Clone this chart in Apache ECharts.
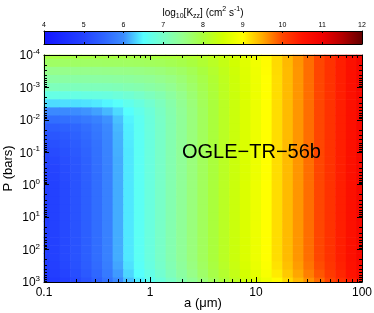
<!DOCTYPE html>
<html><head><meta charset="utf-8">
<script src="https://cdn.jsdelivr.net/npm/echarts@6/dist/echarts.min.js"></script>
<style>html,body{margin:0;padding:0;background:#fff}#c{width:374px;height:313px}</style>
</head><body><div id="c"></div>
<script>
// log10 of particle radius a (micron) at grid columns
const aExp = [-1.0,-0.9,-0.8,-0.7,-0.6,-0.5,-0.4,-0.3,-0.2,-0.1,0.0,0.1,0.2,0.3,0.4,0.5,0.6,0.7,0.8,0.9,1.0,1.1,1.2,1.3,1.4,1.5,1.6,1.7,1.8,1.9,2.0];
// log10 of pressure P (bar) at grid rows
const pExp = [-4,-3.75,-3.5,-3.25,-3,-2.75,-2.5,-2.25,-2,-1.75,-1.5,-1.25,-1,-0.75,-0.5,-0.25,0,0.25,0.5,0.75,1,1.25,1.5,1.75,2,2.25,2.5,2.75,3];
// log10 Kzz (cm^2 s^-1), one row per pExp, one value per aExp
const kzz = [
[7.95,7.95,7.95,7.95,7.95,7.95,7.95,7.96,7.96,7.97,7.98,8.00,8.02,8.06,8.11,8.18,8.28,8.39,8.53,8.69,8.86,9.04,9.22,9.42,9.61,9.81,10.00,10.20,10.40,10.60,10.80],
[7.75,7.75,7.75,7.75,7.75,7.75,7.76,7.76,7.77,7.78,7.80,7.82,7.86,7.91,7.98,8.08,8.19,8.33,8.49,8.66,8.84,9.02,9.22,9.41,9.61,9.80,10.00,10.20,10.40,10.60,10.80],
[7.50,7.50,7.50,7.50,7.50,7.50,7.51,7.52,7.53,7.55,7.58,7.62,7.68,7.75,7.85,7.98,8.12,8.28,8.45,8.63,8.82,9.01,9.21,9.40,9.60,9.80,10.00,10.20,10.40,10.60,10.80],
[7.30,7.30,7.30,7.30,7.30,7.31,7.32,7.33,7.35,7.38,7.42,7.48,7.55,7.65,7.78,7.92,8.08,8.25,8.43,8.62,8.81,9.00,9.20,9.40,9.60,9.80,10.00,10.20,10.40,10.60,10.80],
[7.10,7.10,7.10,7.10,7.11,7.11,7.12,7.14,7.18,7.22,7.28,7.35,7.45,7.58,7.72,7.88,8.05,8.23,8.42,8.61,8.80,9.00,9.20,9.40,9.60,9.80,10.00,10.20,10.40,10.60,10.80],
[6.74,6.74,6.75,6.75,6.76,6.77,6.79,6.84,6.90,6.98,7.08,7.19,7.33,7.49,7.66,7.84,8.02,8.22,8.40,8.60,8.80,9.00,9.20,9.40,9.60,9.80,10.00,10.20,10.40,10.60,10.80],
[6.35,6.35,6.36,6.36,6.38,6.41,6.46,6.55,6.67,6.79,6.93,7.08,7.25,7.44,7.62,7.82,8.00,8.20,8.40,8.60,8.80,9.00,9.20,9.40,9.60,9.80,10.00,10.20,10.40,10.60,10.80],
[5.95,5.96,5.97,6.00,6.03,6.09,6.19,6.34,6.52,6.68,6.85,7.03,7.22,7.41,7.60,7.80,8.00,8.20,8.40,8.60,8.80,9.00,9.20,9.40,9.60,9.80,10.00,10.20,10.40,10.60,10.80],
[5.60,5.62,5.65,5.70,5.77,5.87,6.02,6.23,6.45,6.63,6.82,7.01,7.20,7.40,7.60,7.80,8.00,8.20,8.40,8.60,8.80,9.00,9.20,9.40,9.60,9.80,10.00,10.20,10.40,10.60,10.80],
[5.38,5.41,5.46,5.53,5.63,5.76,5.95,6.19,6.43,6.62,6.81,7.00,7.20,7.40,7.60,7.80,8.00,8.20,8.40,8.60,8.80,9.00,9.20,9.40,9.60,9.80,10.00,10.20,10.40,10.60,10.80],
[5.25,5.29,5.36,5.45,5.57,5.72,5.92,6.17,6.42,6.61,6.80,7.00,7.20,7.40,7.60,7.80,8.00,8.20,8.40,8.60,8.80,9.00,9.20,9.40,9.60,9.80,10.00,10.20,10.40,10.60,10.80],
[5.15,5.20,5.28,5.38,5.52,5.68,5.90,6.16,6.41,6.60,6.80,7.00,7.20,7.40,7.60,7.80,8.00,8.20,8.40,8.60,8.80,9.00,9.20,9.40,9.60,9.80,10.00,10.20,10.40,10.60,10.80],
[5.07,5.13,5.22,5.34,5.48,5.66,5.89,6.15,6.40,6.60,6.80,7.00,7.20,7.40,7.60,7.80,8.00,8.20,8.40,8.60,8.80,9.00,9.20,9.40,9.60,9.80,10.00,10.20,10.40,10.60,10.80],
[5.00,5.07,5.18,5.30,5.46,5.65,5.88,6.14,6.40,6.60,6.80,7.00,7.20,7.40,7.60,7.80,8.00,8.20,8.40,8.60,8.80,9.00,9.20,9.40,9.60,9.80,10.00,10.20,10.40,10.60,10.80],
[4.96,5.03,5.15,5.28,5.44,5.64,5.86,6.14,6.40,6.60,6.80,7.00,7.20,7.40,7.60,7.80,8.00,8.20,8.40,8.60,8.80,9.00,9.20,9.40,9.60,9.80,10.00,10.20,10.40,10.60,10.80],
[4.93,5.01,5.13,5.27,5.44,5.62,5.86,6.14,6.40,6.60,6.80,7.00,7.20,7.40,7.60,7.80,8.00,8.20,8.40,8.60,8.80,9.00,9.20,9.40,9.60,9.80,10.00,10.20,10.40,10.60,10.80],
[4.90,4.97,5.10,5.25,5.42,5.62,5.86,6.14,6.40,6.60,6.80,7.00,7.20,7.40,7.60,7.80,8.00,8.20,8.40,8.60,8.80,9.00,9.20,9.40,9.60,9.80,10.00,10.20,10.40,10.60,10.80],
[4.88,4.97,5.10,5.25,5.42,5.62,5.86,6.14,6.40,6.60,6.80,7.00,7.20,7.40,7.60,7.80,8.00,8.20,8.40,8.60,8.80,9.00,9.20,9.40,9.60,9.80,10.00,10.20,10.40,10.60,10.80],
[4.88,4.97,5.10,5.25,5.42,5.62,5.86,6.14,6.40,6.60,6.80,7.00,7.20,7.40,7.60,7.80,8.00,8.20,8.40,8.60,8.80,9.00,9.20,9.40,9.60,9.80,10.00,10.20,10.40,10.60,10.80],
[4.88,4.97,5.10,5.25,5.42,5.62,5.86,6.14,6.40,6.60,6.80,7.00,7.20,7.40,7.60,7.80,8.00,8.20,8.40,8.60,8.80,9.00,9.20,9.40,9.60,9.80,10.00,10.20,10.40,10.60,10.80],
[4.88,4.97,5.10,5.25,5.42,5.62,5.86,6.14,6.40,6.60,6.80,7.00,7.20,7.40,7.60,7.80,8.00,8.20,8.40,8.60,8.80,9.00,9.20,9.40,9.60,9.80,10.00,10.20,10.40,10.60,10.80],
[4.88,4.97,5.10,5.25,5.42,5.62,5.86,6.14,6.40,6.60,6.80,7.00,7.20,7.40,7.60,7.80,8.00,8.20,8.40,8.60,8.80,9.00,9.20,9.40,9.60,9.80,10.00,10.20,10.40,10.60,10.80],
[4.88,4.97,5.10,5.25,5.42,5.62,5.86,6.14,6.40,6.60,6.80,7.00,7.20,7.40,7.60,7.80,8.00,8.20,8.40,8.60,8.80,9.00,9.20,9.40,9.60,9.80,10.00,10.20,10.40,10.60,10.80],
[4.88,4.97,5.10,5.25,5.42,5.62,5.86,6.14,6.40,6.60,6.80,7.00,7.20,7.40,7.60,7.80,8.00,8.20,8.40,8.60,8.80,9.00,9.20,9.40,9.60,9.80,10.00,10.20,10.40,10.60,10.80],
[4.88,4.97,5.10,5.25,5.42,5.62,5.86,6.14,6.40,6.60,6.80,7.00,7.20,7.40,7.60,7.80,8.00,8.20,8.40,8.60,8.80,9.00,9.20,9.40,9.60,9.80,10.00,10.20,10.40,10.60,10.80],
[4.88,4.97,5.10,5.25,5.42,5.62,5.86,6.14,6.40,6.60,6.80,7.00,7.20,7.40,7.60,7.80,8.00,8.20,8.40,8.60,8.80,9.00,9.20,9.40,9.60,9.80,10.00,10.20,10.40,10.60,10.80],
[4.85,4.94,5.07,5.22,5.39,5.59,5.83,6.11,6.37,6.57,6.77,6.97,7.17,7.37,7.57,7.77,7.97,8.17,8.37,8.57,8.77,8.97,9.17,9.37,9.57,9.77,9.97,10.17,10.37,10.57,10.77],
[4.80,4.89,5.02,5.17,5.34,5.54,5.78,6.06,6.32,6.52,6.72,6.92,7.12,7.32,7.52,7.72,7.92,8.12,8.32,8.52,8.72,8.92,9.12,9.32,9.52,9.72,9.92,10.12,10.32,10.52,10.72],
[4.70,4.79,4.92,5.07,5.24,5.44,5.68,5.96,6.22,6.42,6.62,6.82,7.02,7.22,7.42,7.62,7.82,8.02,8.22,8.42,8.62,8.82,9.02,9.22,9.42,9.62,9.82,10.02,10.22,10.42,10.62]
];
// colour scale range and colours (evenly spaced from cbMin to cbMax)
const cbMin = 4, cbMax = 12;
const cmapColors = ['#1414ff','#1a2cff','#2442ff','#2e64ff','#3c8cff','#55ffff','#78ffc8','#96ff8c','#aaff3c','#d2ff00','#ffff00','#ffaa00','#ff4600','#ff1400','#f00000','#b40000','#640000'];
const minorMult = [2,3,4,5,6,7,8,9];
const xDecades = [0.1, 1, 10];
const yDecades = [1e-4, 1e-3, 1e-2, 1e-1, 1, 10, 100];

const FONT = '"Liberation Sans", Arial, Helvetica, sans-serif';
const X_MIN = 0.1, X_MAX = 100, Y_MIN = 1e-4, Y_MAX = 1e3;
const HALF_A = 0.05, HALF_P = 0.125;

const cells = [];
for (let i = 0; i < pExp.length; i++) {
  for (let j = 0; j < aExp.length; j++) {
    if (kzz[i][j] == null) continue;
    cells.push([Math.pow(10, aExp[j]), Math.pow(10, pExp[i]), kzz[i][j], aExp[j], pExp[i]]);
  }
}
const xMinor = [], yMinor = [];
xDecades.forEach(d => minorMult.forEach(m => xMinor.push([m * d, 1])));
yDecades.forEach(d => minorMult.forEach(m => yMinor.push([1, m * d])));

function renderCell(params, api) {
  const la = api.value(3), lp = api.value(4);
  const x0 = Math.max(X_MIN, Math.pow(10, la - HALF_A));
  const x1 = Math.min(X_MAX, Math.pow(10, la + HALF_A));
  const y0 = Math.max(Y_MIN, Math.pow(10, lp - HALF_P));
  const y1 = Math.min(Y_MAX, Math.pow(10, lp + HALF_P));
  const p0 = api.coord([x0, y0]), p1 = api.coord([x1, y1]);
  const l = Math.min(p0[0], p1[0]), r = Math.max(p0[0], p1[0]);
  const t = Math.min(p0[1], p1[1]), b = Math.max(p0[1], p1[1]);
  return {type: 'rect', shape: {x: l - 0.3, y: t - 0.3, width: r - l + 0.6, height: b - t + 0.6},
          style: {fill: api.visual('color')}};
}
function renderXMinor(params, api) {
  const v = api.value(0);
  const pb = api.coord([v, Y_MAX]), pt = api.coord([v, Y_MIN]);
  const x = Math.round(pb[0]) + 0.5;
  return {type: 'group', children: [
    {type: 'line', shape: {x1: x, y1: pb[1], x2: x, y2: pb[1] - 3}, style: {stroke: '#000', lineWidth: 1}},
    {type: 'line', shape: {x1: x, y1: pt[1], x2: x, y2: pt[1] + 3}, style: {stroke: '#000', lineWidth: 1}}
  ]};
}
function renderYMinor(params, api) {
  const v = api.value(1);
  const pl = api.coord([X_MIN, v]), pr = api.coord([X_MAX, v]);
  const y = Math.round(pl[1]) + 0.5;
  return {type: 'group', children: [
    {type: 'line', shape: {x1: pl[0], y1: y, x2: pl[0] + 3, y2: y}, style: {stroke: '#000', lineWidth: 1}},
    {type: 'line', shape: {x1: pr[0], y1: y, x2: pr[0] - 3, y2: y}, style: {stroke: '#000', lineWidth: 1}}
  ]};
}
function renderColorbar(params, api) {
  const p0 = api.coord([cbMin, 0]), p1 = api.coord([cbMax, 1]);
  const stops = cmapColors.map((c, k) => ({offset: k / (cmapColors.length - 1), color: c}));
  return {type: 'rect', shape: {x: p0[0], y: p1[1], width: p1[0] - p0[0], height: p0[1] - p1[1]},
          style: {fill: {type: 'linear', x: 0, y: 0, x2: 1, y2: 0, colorStops: stops}}};
}

const axisLineBlack = {show: true, onZero: false, lineStyle: {color: '#000', width: 1}};
const logX = (pos, labels) => ({
  gridIndex: 0, type: 'log', logBase: 10, min: X_MIN, max: X_MAX, interval: 1, position: pos, z: 10,
  axisLine: axisLineBlack,
  axisTick: {show: true, inside: true, length: 5, lineStyle: {color: '#000', width: 1}},
  axisLabel: {show: labels, color: '#000', fontSize: 12, fontFamily: FONT, margin: 5,
              formatter: v => String(+Number(v).toPrecision(3))},
  splitLine: {show: false}, minorTick: {show: false}
});
const logY = (pos, labels) => ({
  gridIndex: 0, type: 'log', logBase: 10, min: Y_MIN, max: Y_MAX, interval: 1, inverse: true, position: pos, z: 10,
  axisLine: axisLineBlack,
  axisTick: {show: true, inside: true, length: 5, lineStyle: {color: '#000', width: 1}},
  axisLabel: {show: labels, color: '#000', fontFamily: FONT, margin: 4,
    formatter: v => '{b|10}{s|' + Math.round(Math.log10(v)) + '}',
    rich: {
      b: {fontSize: 12, lineHeight: 14, verticalAlign: 'bottom', fontFamily: FONT, color: '#000'},
      s: {fontSize: 8, lineHeight: 8, verticalAlign: 'top', padding: [0, 0, 10, 0], fontFamily: FONT, color: '#000'}
    }},
  splitLine: {show: false}, minorTick: {show: false}
});
const cbX = (pos, labels) => ({
  gridIndex: 1, type: 'value', min: cbMin, max: cbMax, interval: 1, position: pos, z: 10,
  axisLine: axisLineBlack,
  axisTick: {show: true, inside: true, length: 2, lineStyle: {color: '#000', width: 1}},
  axisLabel: {show: labels, color: '#000', fontSize: 7, fontFamily: FONT, margin: 2},
  splitLine: {show: false}
});
const cbY = (pos) => ({
  gridIndex: 1, type: 'value', min: 0, max: 1, position: pos, z: 10,
  axisLine: axisLineBlack, axisTick: {show: false}, axisLabel: {show: false}, splitLine: {show: false}
});

const xMain = logX('bottom', true);
xMain.name = 'a (\u03bcm)';
xMain.nameLocation = 'middle';
xMain.nameGap = 15;
xMain.nameMoveOverlap = false;
xMain.nameTextStyle = {color: '#000', fontSize: 13, fontFamily: FONT};
const yMain = logY('left', true);
yMain.name = 'P (bars)';
yMain.nameLocation = 'middle';
yMain.nameGap = 29;
yMain.nameMoveOverlap = false;
yMain.nameTextStyle = {color: '#000', fontSize: 13, fontFamily: FONT};

const option = {
  animation: false,
  backgroundColor: '#fff',
  textStyle: {fontFamily: FONT},
  grid: [
    {left: 44, top: 55, width: 318, height: 227, show: false, containLabel: false, outerBoundsMode: 'none'},
    {left: 44, top: 31, width: 318, height: 13, show: false, containLabel: false, outerBoundsMode: 'none'}
  ],
  xAxis: [xMain, logX('top', false), cbX('top', true), cbX('bottom', false)],
  yAxis: [yMain, logY('right', false), cbY('left'), cbY('right')],
  visualMap: {type: 'continuous', show: false, min: cbMin, max: cbMax, dimension: 2, seriesIndex: 0,
              inRange: {color: cmapColors}},
  graphic: [
    {type: 'text', x: 203, y: 13, z: 100, style: {
      text: '{n|log}{sub|10}{n|[K}{sub|zz}{n|] (cm}{sup|2}{n| s}{sup|-1}{n|)}',
      align: 'center', verticalAlign: 'middle', fill: '#000',
      rich: {
        n: {fontSize: 10, lineHeight: 16, verticalAlign: 'middle', fontFamily: FONT, fill: '#000'},
        sub: {fontSize: 7, lineHeight: 7, verticalAlign: 'bottom', padding: [0, 0, 1, 0], fontFamily: FONT, fill: '#000'},
        sup: {fontSize: 7, lineHeight: 7, verticalAlign: 'top', padding: [1, 0, 0, 0], fontFamily: FONT, fill: '#000'}
      }}},
    {type: 'text', x: 182, y: 152, z: 100, style: {
      text: 'OGLE\u2212TR\u221256b', fontSize: 20, fontFamily: FONT, fill: '#000',
      align: 'left', verticalAlign: 'middle'}}
  ],
  series: [
    {type: 'custom', xAxisIndex: 0, yAxisIndex: 0, data: cells, encode: {x: 0, y: 1}, renderItem: renderCell, silent: true, z: 2},
    {type: 'custom', xAxisIndex: 0, yAxisIndex: 0, data: xMinor, encode: {x: 0, y: 1}, renderItem: renderXMinor, silent: true, z: 8},
    {type: 'custom', xAxisIndex: 0, yAxisIndex: 0, data: yMinor, encode: {x: 0, y: 1}, renderItem: renderYMinor, silent: true, z: 8},
    {type: 'custom', xAxisIndex: 2, yAxisIndex: 2, data: [[cbMin, 0]], encode: {x: 0, y: 1}, renderItem: renderColorbar, silent: true, z: 2}
  ]
};
const chart = echarts.init(document.getElementById('c'), null, {renderer: 'canvas'});
chart.setOption(option);
</script></body></html>
